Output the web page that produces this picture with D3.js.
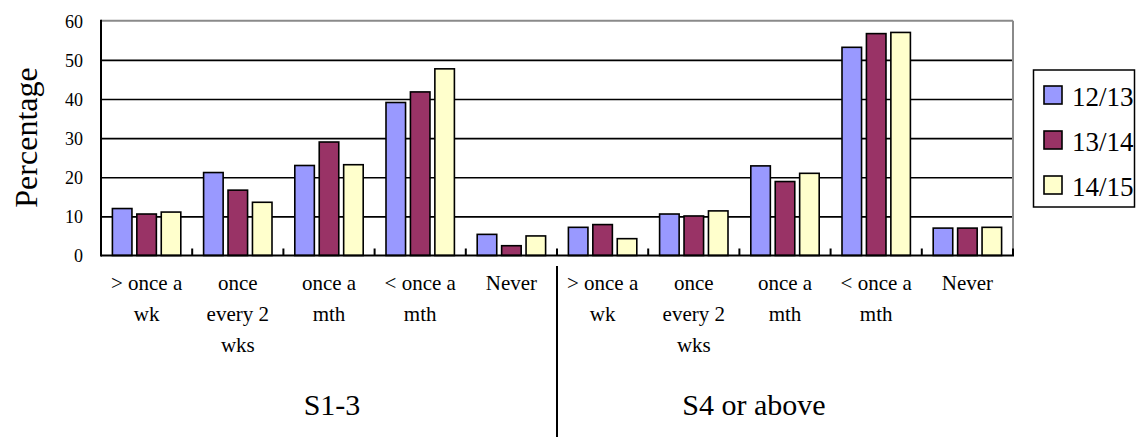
<!DOCTYPE html>
<html>
<head>
<meta charset="utf-8">
<script src="https://cdn.jsdelivr.net/npm/d3@7/dist/d3.min.js"></script>
<style>
  html, body { margin: 0; padding: 0; background: #fff; }
  svg { display: block; }
  text { font-family: "Liberation Serif", "DejaVu Serif", serif; fill: #000; }
</style>
</head>
<body>
<svg id="chart" width="1137" height="439"></svg>
<script>
// School level groups, each with the same five frequency categories
const groups = ["S1-3", "S4 or above"];
const frequencies = [
  ["> once a", "wk"],
  ["once", "every 2", "wks"],
  ["once a", "mth"],
  ["< once a", "mth"],
  ["Never"]
];
const seriesNames = ["12/13", "13/14", "14/15"];
const seriesColors = ["#9999FF", "#993366", "#FFFFCC"];

// Percentages, S1-3 first then S4 or above
const values1213 = [12.0, 21.2, 23.0, 39.1, 5.4, 7.2, 10.6, 22.9, 53.2, 7.0];
const values1314 = [10.6, 16.7, 29.0, 41.8, 2.5, 7.9, 10.1, 18.9, 56.7, 7.0];
const values1415 = [11.1, 13.6, 23.2, 47.7, 5.0, 4.3, 11.4, 21.0, 57.0, 7.2];
const yTicks = [0, 10, 20, 30, 40, 50, 60];

const seriesValues = [values1213, values1314, values1415];
const categories = [];
groups.forEach((g, gi) => frequencies.forEach((f, fi) => categories.push({ key: gi + "-" + fi, group: g, lines: f })));

const svg = d3.select("#chart");
const plotLeft = 101, plotRight = 1013, plotTop = 20.7, plotBottom = 255.5;

const x = d3.scaleBand().domain(categories.map(c => c.key)).range([plotLeft, plotRight])
  .paddingInner(0.25).paddingOuter(0.125);
const xs = d3.scaleBand().domain(seriesNames).range([0, x.bandwidth()]).paddingInner(0.2);
const y = d3.scaleLinear().domain([0, 60]).range([plotBottom, plotTop]);

// Horizontal gridlines with tick labels
const yAxis = svg.append("g").attr("transform", `translate(${plotLeft},0)`)
  .call(d3.axisLeft(y).tickValues(yTicks).tickSize(-(plotRight - plotLeft)).tickPadding(18));
yAxis.select(".domain").remove();
yAxis.selectAll(".tick line").attr("stroke", "#000").attr("stroke-width", 1.6)
  .attr("opacity", d => (d === 0 || d === 60) ? 0 : 1);
yAxis.selectAll(".tick text").attr("font-size", 18).attr("fill", "#000").attr("dy", "0.35em");

// Plot frame: grey top and right, black axes
svg.append("line").attr("x1", plotLeft).attr("x2", plotRight).attr("y1", plotTop).attr("y2", plotTop)
  .attr("stroke", "#8a8a8a").attr("stroke-width", 2);
svg.append("line").attr("x1", plotRight).attr("x2", plotRight).attr("y1", plotTop).attr("y2", plotBottom)
  .attr("stroke", "#8a8a8a").attr("stroke-width", 2);

// Bars
const cat = svg.append("g").selectAll("g").data(categories).join("g")
  .attr("transform", d => `translate(${x(d.key)},0)`);
cat.selectAll("rect").data((d, i) => seriesNames.map((s, si) => ({ s, si, v: seriesValues[si][i] })))
  .join("rect")
  .attr("x", d => xs(d.s))
  .attr("width", xs.bandwidth())
  .attr("y", d => y(d.v))
  .attr("height", d => y(0) - y(d.v))
  .attr("fill", d => seriesColors[d.si])
  .attr("stroke", "#000").attr("stroke-width", 1.6);

// Axes on top of bars
svg.append("line").attr("x1", plotLeft).attr("x2", plotLeft).attr("y1", plotTop - 1).attr("y2", plotBottom + 1)
  .attr("stroke", "#000").attr("stroke-width", 2);
svg.append("line").attr("x1", plotLeft).attr("x2", plotRight + 1).attr("y1", plotBottom).attr("y2", plotBottom)
  .attr("stroke", "#000").attr("stroke-width", 2);

// Category boundary ticks pointing into the plot
const boundaries = d3.range(1, categories.length + 1).map(i => plotLeft + i * x.step());
svg.append("g").selectAll("line").data(boundaries).join("line")
  .attr("x1", d => d).attr("x2", d => d).attr("y1", plotBottom).attr("y2", plotBottom - 7)
  .attr("stroke", "#000").attr("stroke-width", 2);

// Category labels (wrapped)
const labels = svg.append("g").selectAll("text").data(categories).join("text")
  .attr("text-anchor", "middle").attr("font-size", 21)
  .attr("transform", d => `translate(${x(d.key) + x.bandwidth() / 2},290)`);
labels.selectAll("tspan").data(d => d.lines).join("tspan")
  .attr("x", 0).attr("y", (d, i) => i * 31).text(d => d);

// Group labels and divider; the second title sits a little left of its group centre
const groupWidth = frequencies.length * x.step();
const groupLabelShift = [3, -31];
svg.append("g").selectAll("text").data(groups).join("text")
  .attr("x", (d, i) => plotLeft + groupWidth * (i + 0.5) + groupLabelShift[i])
  .attr("y", 415).attr("text-anchor", "middle").attr("font-size", 30).text(d => d);
svg.append("line").attr("x1", plotLeft + groupWidth).attr("x2", plotLeft + groupWidth)
  .attr("y1", 266).attr("y2", 437).attr("stroke", "#000").attr("stroke-width", 2);

// Y axis title
svg.append("text").attr("transform", "translate(37,137.5) rotate(-90)")
  .attr("text-anchor", "middle").attr("font-size", 32).text("Percentage");

// Legend
const lg = svg.append("g");
lg.append("rect").attr("x", 1033.5).attr("y", 70).attr("width", 101).attr("height", 137)
  .attr("fill", "#fff").attr("stroke", "#000").attr("stroke-width", 1.5);
const items = lg.selectAll("g").data(seriesNames).join("g")
  .attr("transform", (d, i) => `translate(0,${95 + i * 45})`);
items.append("rect").attr("x", 1044).attr("y", -9).attr("width", 18).attr("height", 18)
  .attr("fill", (d, i) => seriesColors[i]).attr("stroke", "#000").attr("stroke-width", 1.6);
items.append("text").attr("x", 1072).attr("y", 11).attr("font-size", 27).text(d => d);
</script>
</body>
</html>
